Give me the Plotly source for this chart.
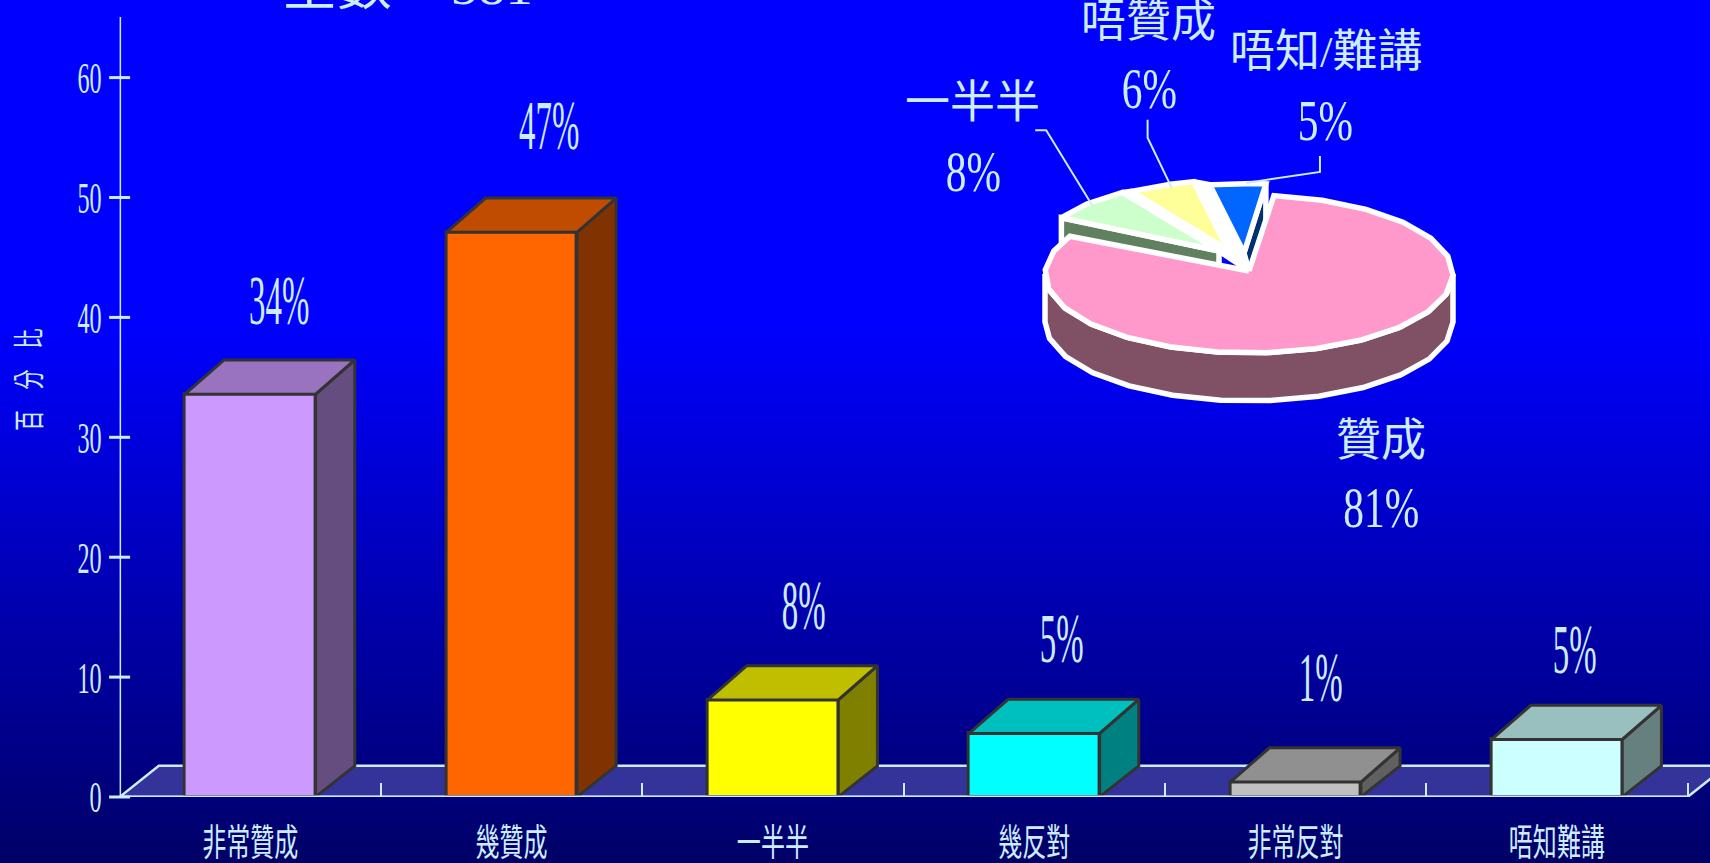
import numpy as np
import plotly.graph_objects as go

# ---------- data ----------
categories = ["非常贊成", "幾贊成", "一半半", "幾反對", "非常反對", "唔知難講"]
bar_values = [33.6, 47.1, 8.1, 5.3, 1.25, 4.8]
bar_labels = ["34%", "47%", "8%", "5%", "1%", "5%"]
y_ticks = [0, 10, 20, 30, 40, 50, 60]
pie_labels = ["贊成", "一半半", "唔贊成", "唔知/難講"]
pie_values = [81, 8, 6, 5]
pie_value_labels = ["81%", "8%", "6%", "5%"]
y_title = "百　分　比"
main_title = "全數 = 581"

# ---------- styles ----------
front_colors = ["#CC99FF", "#FF6600", "#FFFF00", "#00FFFF", "#C0C0C0", "#CCFFFF"]
top_colors = ["#9973BF", "#BF4C00", "#BFBF00", "#00BFBF", "#909090", "#99BFBF"]
side_colors = ["#664D80", "#803300", "#808000", "#008080", "#606060", "#668080"]
pie_top_colors = ["#FF99CC", "#CCFFCC", "#FFFF99", "#0066FF"]
pie_side_colors = ["#805064", "#608060", "#808050", "#003070"]
INK = "#CCECFF"
EDGE = "#333333"
FONT = "Liberation Serif, Noto Sans CJK TC"
label_xshift = [29, 37, 31, 27, 25, 18]
label_yshift = [94, 107, 94, 95, 105, 90]
W, H = 1710, 863
AX_X, AX_Y0, AX_YTOP = 119.6, 797, 17
PITCH, UNIT = 261.33, 11.99
BAR_W, DX, DY, FLOOR_DY = 0.5, 0.15, 2.85, 2.6

# pie geometry (pixel space of the overlay axes)
PCX, PCY, RX, RY, DEPTH, START, STEP = 1249, 274, 204, 79, 48, 7.0, 14.0
SMALL_R, APEX_DY = 0.88, -3
slice_offset = [(0, 0), (-30, -23), (-21, -24), (-5, -21)]
pie_label_pos = [(1381, 441), (972, 103), (1148, 22), (1326, 52)]
pie_value_pos = [(1381, 508), (973, 172), (1149, 89), (1325, 121)]
leader_shift = [None, [(0, 0), (-46, -75), (-57, -75)], [(8, 0), (-16, -50), (-16, -68)], [(8, -3), (82, -14), (82, -30)]]

fig = go.Figure()
xs = list(range(len(categories)))
off = dict(mode="lines", fill="toself", hoverinfo="skip", showlegend=False)

# bars: front faces
fig.add_trace(go.Bar(x=xs, y=bar_values, width=BAR_W, marker=dict(color=front_colors, line=dict(color=EDGE, width=3)),
                     hoverinfo="skip", showlegend=False))
# bars: side and top faces
for i, v in enumerate(bar_values):
    l, r = i - BAR_W / 2, i + BAR_W / 2
    fig.add_trace(go.Scatter(x=[r, r + DX, r + DX, r, r], y=[0, FLOOR_DY, v + DY, v, 0], fillcolor=side_colors[i],
                             line=dict(color=EDGE, width=3), **off))
    fig.add_trace(go.Scatter(x=[l, l + DX, r + DX, r, l], y=[v, v + DY, v + DY, v, v], fillcolor=top_colors[i],
                             line=dict(color=EDGE, width=3), **off))
# value axis line, front floor line and the crossing value ticks
n = len(categories)
y_top = (AX_Y0 - AX_YTOP) / UNIT
fig.add_trace(go.Scatter(x=[-0.5, -0.5], y=[0, y_top], mode="lines", line=dict(color=INK, width=3),
                         hoverinfo="skip", showlegend=False, cliponaxis=False))
fig.add_trace(go.Scatter(x=[-0.5, n - 0.5], y=[0, 0], mode="lines", line=dict(color=INK, width=3),
                         hoverinfo="skip", showlegend=False, cliponaxis=False))
fig.add_trace(go.Scatter(x=[-0.5] * len(y_ticks), y=y_ticks, mode="markers", cliponaxis=False,
                         marker=dict(symbol="line-ew", size=15, line=dict(color=INK, width=3)),
                         hoverinfo="skip", showlegend=False))

# ---------- pie ----------
def rim(theta, r=1.0, ox=0.0, oy=0.0):
    t = np.radians(theta)
    return float(PCX + ox + r * RX * np.sin(t)), float(PCY + oy - r * RY * np.cos(t))

def arc(a0, a1):
    return list(np.arange(a0, a1, STEP)) + [a1]

total = sum(pie_values)
angles = np.cumsum([0] + [v / total * 360 for v in pie_values]) + START

def add_pie(xv, yv, fill):
    fig.add_trace(go.Scatter(x=xv, y=yv, xaxis="x2", yaxis="y2", fillcolor=fill,
                             line=dict(color="white", width=5.5), **off))

def cut_face(k, theta, color):
    ox, oy = slice_offset[k]
    ax, ay = PCX + ox, PCY + oy
    rx_, ry_ = rim(theta, SMALL_R, ox, oy)
    add_pie([ax, rx_, rx_, ax, ax], [ay, ry_, ry_ + DEPTH, ay + DEPTH, ay], color)

cut_face(1, angles[1], pie_side_colors[1])
cut_face(3, angles[4], pie_side_colors[3])
# white fill where the slice tips meet
g_o, b_o = slice_offset[1], slice_offset[3]
add_pie([PCX + g_o[0], PCX + b_o[0], PCX, PCX + g_o[0]],
        [PCY + g_o[1], PCY + b_o[1], PCY + APEX_DY, PCY + g_o[1]], "white")
# white seams between neighbouring small slices
for k in (1, 2):
    o0, o1 = slice_offset[k], slice_offset[k + 1]
    a = angles[k + 1]
    p0, p1 = rim(a, SMALL_R, *o0), rim(a, SMALL_R, *o1)
    add_pie([PCX + o0[0], p0[0], p1[0], PCX + o1[0], PCX + o0[0]],
            [PCY + o0[1], p0[1], p1[1], PCY + o1[1], PCY + o0[1]], "white")
for k in (1, 2, 3):
    ox, oy = slice_offset[k]
    pts = [rim(a, SMALL_R, ox, oy) for a in arc(angles[k], angles[k + 1])]
    add_pie([PCX + ox] + [p[0] for p in pts] + [PCX + ox], [PCY + oy] + [p[1] for p in pts] + [PCY + oy], pie_top_colors[k])
# main slice: rim wall then top
wall = [rim(a) for a in arc(90, 270)]
add_pie([p[0] for p in wall] + [p[0] for p in wall[::-1]] + [wall[0][0]],
        [p[1] for p in wall] + [p[1] + DEPTH for p in wall[::-1]] + [wall[0][1]], pie_side_colors[0])
pts = [rim(a) for a in arc(angles[0], angles[1])]
add_pie([PCX] + [p[0] for p in pts] + [PCX], [PCY + APEX_DY] + [p[1] for p in pts] + [PCY + APEX_DY], pie_top_colors[0])
# leaders
for k in (1, 2, 3):
    ox, oy = slice_offset[k]
    ex, ey = rim((angles[k] + angles[k + 1]) / 2, 0.85, ox, oy)
    fig.add_trace(go.Scatter(x=[ex + s[0] for s in leader_shift[k]], y=[ey + s[1] for s in leader_shift[k]],
                             xaxis="x2", yaxis="y2", mode="lines", line=dict(color=INK, width=2),
                             hoverinfo="skip", showlegend=False))

# ---------- annotations ----------
ann = []
for i, (v, t) in enumerate(zip(bar_values, bar_labels)):
    ann.append(dict(x=i, y=v, xref="x", yref="y", text=t, showarrow=False, xshift=label_xshift[i], yshift=label_yshift[i],
                    font=dict(family=FONT, size=70, color=INK)))
for (lp, t, vp, vt) in zip(pie_label_pos, pie_labels, pie_value_pos, pie_value_labels):
    ann.append(dict(x=lp[0], y=lp[1], xref="x2", yref="y2", text=t, showarrow=False,
                    font=dict(family=FONT, size=45, color=INK)))
    ann.append(dict(x=vp[0], y=vp[1], xref="x2", yref="y2", text=vt, showarrow=False,
                    font=dict(family=FONT, size=56, color=INK)))
ann.append(dict(x=29, y=380, xref="x2", yref="y2", text=y_title, showarrow=False, textangle=-90,
                font=dict(family=FONT, size=31, color=INK)))
ann.append(dict(x=280, y=18, xref="x2", yref="y2", text=main_title, showarrow=False, xanchor="left", yanchor="bottom",
                font=dict(family=FONT, size=55, color=INK)))

# ---------- background and floor (below traces) ----------
shapes = []
for c in range(254, 101, -1):
    y0 = 320 + (255 - c) * 543 / 153
    shapes.append(dict(type="rect", xref="paper", yref="paper", x0=0, x1=1, y0=0, y1=1 - round(y0) / H,
                       fillcolor=f"rgb(0,0,{c})", line=dict(width=0), layer="below"))
floor_path = f"M -0.5 0 L {n - 0.5} 0 L {n - 0.5 + DX} {FLOOR_DY} L {-0.5 + DX} {FLOOR_DY} Z"
shapes.append(dict(type="path", xref="x", yref="y", path=floor_path, fillcolor="#333399",
                   line=dict(color=INK, width=2.5), layer="below"))

fig.update_layout(
    width=W, height=H, margin=dict(l=0, r=0, t=0, b=0, autoexpand=False), autosize=False,
    paper_bgcolor="#0000FF", plot_bgcolor="rgba(0,0,0,0)", showlegend=False,
    shapes=shapes, annotations=ann, bargap=0,
    xaxis=dict(domain=[AX_X / W, 1], range=[-0.5, -0.5 + (W - AX_X) / PITCH], showgrid=False, zeroline=False,
               showline=False, tickmode="array", tickvals=xs, ticktext=categories, ticks="", automargin=False,
               ticklabelstandoff=21, tickfont=dict(family=FONT, size=37, color=INK), tickangle=0,
               minor=dict(tickmode="array", tickvals=[i + 0.5 for i in xs], ticks="inside", ticklen=14,
                          tickwidth=2, tickcolor=INK, showgrid=False)),
    yaxis=dict(domain=[(H - AX_Y0) / H, (H - AX_YTOP) / H], range=[0, y_top], showgrid=False,
               zeroline=False, showline=False, tickmode="array", tickvals=y_ticks, automargin=False,
               ticks="", ticklabelstandoff=17, tickfont=dict(family=FONT, size=44, color=INK)),
    xaxis2=dict(domain=[0, 1], range=[0, W], visible=False, anchor="y2"),
    yaxis2=dict(domain=[0, 1], range=[H, 0], visible=False, anchor="x2"),
)

post = """
document.body.style.margin='0';document.body.style.overflow='hidden';
var sx={70:0.47,44:0.55,37:0.65,56:0.74,31:0.66};
document.querySelectorAll('svg text').forEach(function(el){
  var fs=Math.round(parseFloat(getComputedStyle(el).fontSize));var s=sx[fs];if(!s)return;
  var b=el.getBBox();var end=(el.getAttribute('text-anchor')==='end')||(getComputedStyle(el).textAnchor==='end');
  var cx=end?b.x+b.width:b.x+b.width/2;
  var t=el.getAttribute('transform')||'';
  el.setAttribute('transform',t+' translate('+cx+',0) scale('+s+',1) translate('+(-cx)+',0)');
});
"""
fig.write_html("out.html", post_script=post, config={"displayModeBar": False})
